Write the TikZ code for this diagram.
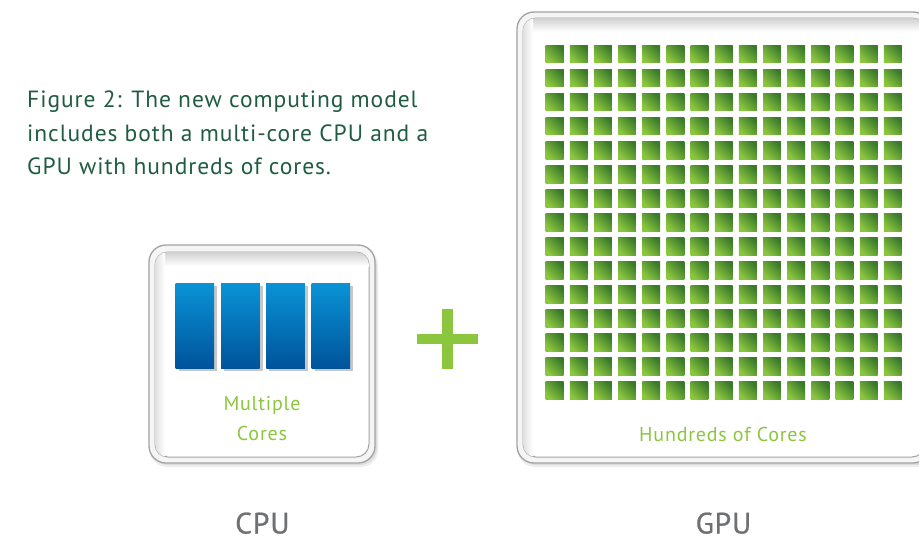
\documentclass[tikz,border=0pt]{standalone}
\usepackage{fontspec}
\setmainfont{PT Sans}
\newfontfamily\dinlike[LetterSpace=4]{PT Sans}
\newfontfamily\dinlikeheavy[LetterSpace=3, FakeBold=0.8]{PT Sans}
\usetikzlibrary{shadings}
\definecolor{captiongreen}{HTML}{1F5C42}
\definecolor{lightgreen}{HTML}{8CC63F}
\definecolor{darkgreen}{HTML}{3A7A2A}
\definecolor{midgreen}{HTML}{66A637}
\definecolor{bluetop}{HTML}{0A93D6}
\definecolor{bluebot}{HTML}{00539B}
\definecolor{labelgray}{HTML}{6F7072}
\definecolor{frameline}{HTML}{A2A2A2}
\tikzset{
  frameouter/.style={draw=frameline, line width=1.3pt, fill=black!4, rounded corners=17pt},
  frameinner/.style={draw=frameline, line width=1pt, fill=white, rounded corners=13pt},
  framesoft/.style={fill=black, opacity=0.07, rounded corners=17pt},
  core/.style={top color=bluetop, bottom color=bluebot},
  coreshadow/.style={fill=black, opacity=0.22},
  gcorebase/.style={fill=midgreen},
  gcore/.style={top color=darkgreen, bottom color=lightgreen, shading angle=-45},
  caption/.style={font=\dinlike\fontsize{23.5}{28}\selectfont, text=captiongreen, anchor=base west, inner sep=0pt},
  inlabel/.style={font=\dinlike\fontsize{20}{24}\selectfont, text=lightgreen, anchor=base, inner sep=0pt},
  unitlabel/.style={font=\dinlikeheavy\fontsize{29.5}{34}\selectfont, text=labelgray, anchor=base, inner sep=0pt, text depth=0pt}
}
\begin{document}
\begin{tikzpicture}[x=1pt,y=-1pt]
\useasboundingbox (0,0) rectangle (919,538);
\clip (0,0) rectangle (919,538);
% caption
\node[caption] (cap1) at (27,107) {Figure 2: The new computing model};
\node[caption] (cap2) at (27,141) {includes both a multi-core CPU and a};
\node[caption] (cap3) at (27,174.5) {GPU with hundreds of cores.};
% CPU frame
\fill[framesoft] (150,248) rectangle (378,467);
\fill[framesoft] (151,250) rectangle (377,465);
\path[frameouter] (149,245) rectangle (375,463);
\path[frameinner] (155,252) rectangle (369,457);
\begin{scope}
  \clip[rounded corners=13pt] (155,252) rectangle (369,457);
  \shade[top color=black!18, bottom color=white] (155,252) rectangle (369,266);
  \shade[left color=black!12, right color=white] (155,252) rectangle (165,457);
\end{scope}
% CPU cores
\foreach \i in {0,...,3}{
  \fill[coreshadow] ({175.7+45.3*\i+3},286) rectangle ({175.7+45.3*\i+38.5+3},371);
  \fill[bluebot] ({175.7+45.3*\i},283) rectangle ({175.7+45.3*\i+38.5},368);
  \shade[core] ({175.7+45.3*\i},283) rectangle ({175.7+45.3*\i+38.5},368);
}
\node[inlabel] (mult) at (262,410.5) {Multiple};
\node[inlabel] (cores) at (262,440) {Cores};
% plus
\fill[lightgreen] (442.3,309) rectangle (452.7,369.3);
\fill[lightgreen] (417.3,334.3) rectangle (478.3,344.3);
% GPU frame
\fill[framesoft] (518,15) rectangle (935,467);
\fill[framesoft] (519,17) rectangle (935,465);
\path[frameouter] (517,12) rectangle (930,463);
\path[frameinner] (523,18) rectangle (925,457);
\begin{scope}
  \clip[rounded corners=13pt] (523,18) rectangle (925,457);
  \shade[top color=black!18, bottom color=white] (523,18) rectangle (925,32);
  \shade[left color=black!12, right color=white] (523,18) rectangle (533,457);
\end{scope}
% GPU cores
\foreach \i in {0,...,14}{
  \foreach \j in {0,...,14}{
    \fill[gcorebase] ({545.7+24.16*\i},{45+24.05*\j}) rectangle ({545.7+24.16*\i+17.8},{45+24.05*\j+17.8});
    \shade[gcore] ({545.7+24.16*\i},{45+24.05*\j}) rectangle ({545.7+24.16*\i+17.8},{45+24.05*\j+17.8});
  }
}
\node[inlabel] (hund) at (723,441) {Hundreds of Cores};
% unit labels
\node[unitlabel] (cpu) at (262.4,533.5) {CPU};
\node[unitlabel] (gpu) at (723.5,533.5) {GPU};
\end{tikzpicture}
\end{document}
